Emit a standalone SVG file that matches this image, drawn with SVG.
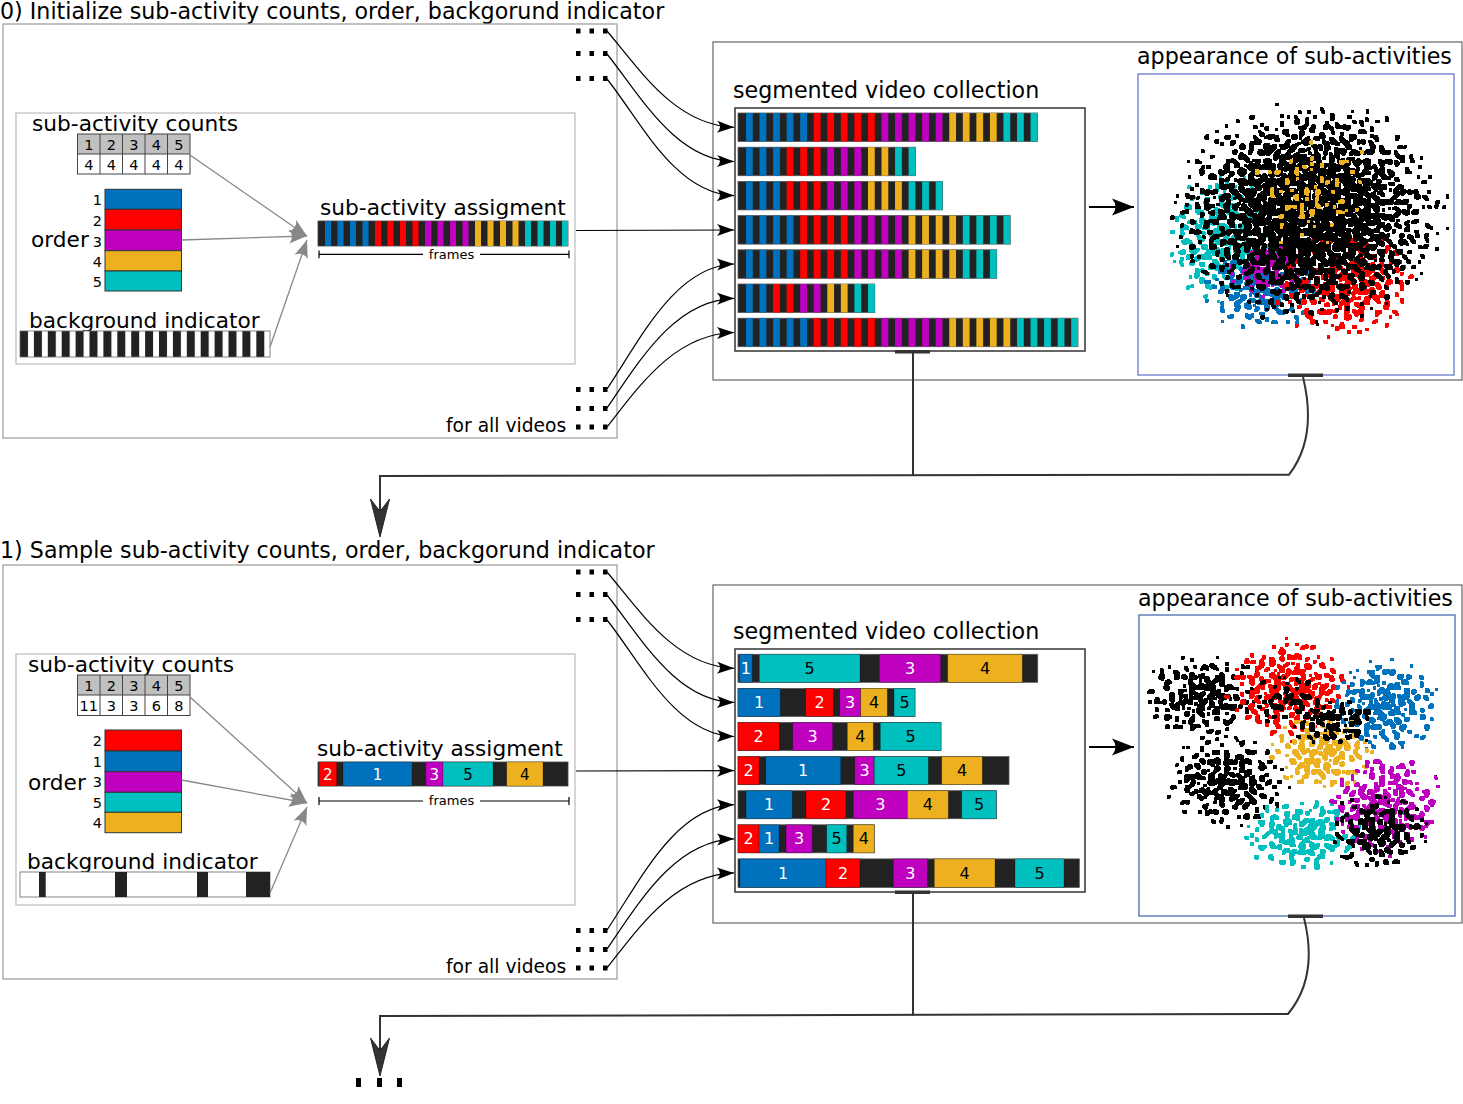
<svg xmlns="http://www.w3.org/2000/svg" width="1463" height="1104" viewBox="0 0 1463 1104">
<style>
text { font-family: "DejaVu Sans", "Liberation Sans", sans-serif; fill: #000; }
.big { font-size: 22.2px; }
.big2 { font-size: 21.7px; }
.mid { font-size: 18.7px; }
.num { font-size: 14.5px; }
.numc { font-size: 14.5px; text-anchor: middle; }
.fr { font-size: 13px; text-anchor: middle; }
.lbl { font-size: 16px; text-anchor: middle; }
.lbs { font-size: 15px; text-anchor: middle; }
.w { fill: #fff; }
.frame { fill: none; stroke: #999; stroke-width: 1.2; }
.inner { fill: none; stroke: #bbb; stroke-width: 1.2; }
.panel { fill: none; stroke: #666; stroke-width: 1.2; }
.coll { fill: #fff; stroke: #333; stroke-width: 1.5; }
.scat { fill: #fff; stroke: #5a6fc8; stroke-width: 1.2; }
.bar { fill: #222; stroke: #555; stroke-width: 0.8; }
.seg { stroke: #000; stroke-opacity: 0.3; stroke-width: 0.8; }
.cell { fill: none; stroke: #444; stroke-width: 1; }
.ord { stroke: #333; stroke-width: 1; }
.gray { fill: none; stroke: #888; stroke-width: 1.3; marker-end: url(#mGray); }
.blk { fill: none; stroke: #000; stroke-width: 1.2; marker-end: url(#mBlk); }
.flow { fill: none; stroke: #333; stroke-width: 2; }
.dot { fill: #000; }
.tick { fill: #333; }
.dart { fill: #333; stroke: #222; stroke-width: 1; }
</style>
<defs>
<marker id="mGray" markerUnits="userSpaceOnUse" viewBox="-20 -9 22 18" refX="0" refY="0" markerWidth="22" markerHeight="18" orient="auto"><path d="M0,0 L-18,-7 Q-12,0 -18,7 Z" fill="#888"/></marker>
<marker id="mBlk" markerUnits="userSpaceOnUse" viewBox="-18 -8 20 16" refX="0" refY="0" markerWidth="20" markerHeight="16" orient="auto"><path d="M0,0 L-17,-6 Q-11,0 -17,6 Z" fill="#000"/></marker>
<marker id="mBig" markerUnits="userSpaceOnUse" viewBox="-24 -10 26 20" refX="0" refY="0" markerWidth="26" markerHeight="20" orient="auto"><path d="M0,0 L-22,-8.5 Q-15,0 -22,8.5 Z" fill="#000"/></marker>
<pattern id="pB" patternUnits="userSpaceOnUse" x="746" y="0" width="13.55" height="1104"><rect width="6.8" height="1104" fill="#0072bd"/></pattern>
<pattern id="pR" patternUnits="userSpaceOnUse" x="746" y="0" width="13.55" height="1104"><rect width="6.8" height="1104" fill="#ff0000"/></pattern>
<pattern id="pM" patternUnits="userSpaceOnUse" x="746" y="0" width="13.55" height="1104"><rect width="6.8" height="1104" fill="#bf00bf"/></pattern>
<pattern id="pO" patternUnits="userSpaceOnUse" x="746" y="0" width="13.55" height="1104"><rect width="6.8" height="1104" fill="#edb120"/></pattern>
<pattern id="pC" patternUnits="userSpaceOnUse" x="746" y="0" width="13.55" height="1104"><rect width="6.8" height="1104" fill="#00bfbf"/></pattern>
<pattern id="pBg" patternUnits="userSpaceOnUse" x="20" y="0" width="13.9" height="1104"><rect width="8" height="1104" fill="#222"/></pattern>
<radialGradient id="gK"><stop offset="0" stop-color="#000" stop-opacity="1"/><stop offset="0.4" stop-color="#000" stop-opacity="0.95"/><stop offset="0.75" stop-color="#000" stop-opacity="0.86"/><stop offset="1" stop-color="#000" stop-opacity="0.75"/></radialGradient>
<radialGradient id="gK3"><stop offset="0" stop-color="#000" stop-opacity="1"/><stop offset="0.35" stop-color="#000" stop-opacity="0.96"/><stop offset="0.65" stop-color="#000" stop-opacity="0.86"/><stop offset="1" stop-color="#000" stop-opacity="0.68"/></radialGradient>
<radialGradient id="gB"><stop offset="0" stop-color="#0072bd" stop-opacity="1"/><stop offset="0.4" stop-color="#0072bd" stop-opacity="0.95"/><stop offset="0.75" stop-color="#0072bd" stop-opacity="0.86"/><stop offset="1" stop-color="#0072bd" stop-opacity="0.75"/></radialGradient>
<radialGradient id="gR"><stop offset="0" stop-color="#ff0000" stop-opacity="1"/><stop offset="0.4" stop-color="#ff0000" stop-opacity="0.95"/><stop offset="0.75" stop-color="#ff0000" stop-opacity="0.86"/><stop offset="1" stop-color="#ff0000" stop-opacity="0.75"/></radialGradient>
<radialGradient id="gM"><stop offset="0" stop-color="#bf00bf" stop-opacity="1"/><stop offset="0.4" stop-color="#bf00bf" stop-opacity="0.95"/><stop offset="0.75" stop-color="#bf00bf" stop-opacity="0.86"/><stop offset="1" stop-color="#bf00bf" stop-opacity="0.75"/></radialGradient>
<radialGradient id="gO"><stop offset="0" stop-color="#edb120" stop-opacity="1"/><stop offset="0.4" stop-color="#edb120" stop-opacity="0.95"/><stop offset="0.75" stop-color="#edb120" stop-opacity="0.86"/><stop offset="1" stop-color="#edb120" stop-opacity="0.75"/></radialGradient>
<radialGradient id="gC"><stop offset="0" stop-color="#00bfbf" stop-opacity="1"/><stop offset="0.4" stop-color="#00bfbf" stop-opacity="0.95"/><stop offset="0.75" stop-color="#00bfbf" stop-opacity="0.86"/><stop offset="1" stop-color="#00bfbf" stop-opacity="0.75"/></radialGradient>
<filter id="f1" x="-0.05" y="-0.05" width="1.1" height="1.1" color-interpolation-filters="sRGB"><feTurbulence type="fractalNoise" baseFrequency="0.2" numOctaves="1" seed="3"/><feColorMatrix type="matrix" values="0 0 0 0 0 0 0 0 0 0 0 0 0 0 0 1 0 0 0 0"/><feComposite in2="SourceAlpha" operator="arithmetic" k1="0" k2="1" k3="1" k4="-0.9"/><feComponentTransfer><feFuncA type="discrete" tableValues="0 0 0 0 0 0 0 0 0 0 0 0 1 1 1 1 1 1 1 1"/></feComponentTransfer><feMorphology operator="dilate" radius="1"/><feGaussianBlur stdDeviation="0.6"/><feComponentTransfer result="t"><feFuncA type="linear" slope="3" intercept="-0.6"/></feComponentTransfer><feColorMatrix in="SourceGraphic" type="matrix" values="1 0 0 0 0 0 1 0 0 0 0 0 1 0 0 0 0 0 0 1"/><feComposite in2="t" operator="in"/></filter>
<filter id="f2" x="-0.05" y="-0.05" width="1.1" height="1.1" color-interpolation-filters="sRGB"><feTurbulence type="fractalNoise" baseFrequency="0.2" numOctaves="1" seed="11"/><feColorMatrix type="matrix" values="0 0 0 0 0 0 0 0 0 0 0 0 0 0 0 1 0 0 0 0"/><feComposite in2="SourceAlpha" operator="arithmetic" k1="0" k2="1" k3="1" k4="-0.9"/><feComponentTransfer><feFuncA type="discrete" tableValues="0 0 0 0 0 0 0 0 0 0 0 0 1 1 1 1 1 1 1 1"/></feComponentTransfer><feMorphology operator="dilate" radius="1"/><feGaussianBlur stdDeviation="0.6"/><feComponentTransfer result="t"><feFuncA type="linear" slope="3" intercept="-0.6"/></feComponentTransfer><feColorMatrix in="SourceGraphic" type="matrix" values="1 0 0 0 0 0 1 0 0 0 0 0 1 0 0 0 0 0 0 1"/><feComposite in2="t" operator="in"/></filter>
<filter id="f3" x="-0.05" y="-0.05" width="1.1" height="1.1" color-interpolation-filters="sRGB"><feTurbulence type="fractalNoise" baseFrequency="0.2" numOctaves="1" seed="19"/><feColorMatrix type="matrix" values="0 0 0 0 0 0 0 0 0 0 0 0 0 0 0 1 0 0 0 0"/><feComposite in2="SourceAlpha" operator="arithmetic" k1="0" k2="1" k3="1" k4="-0.9"/><feComponentTransfer><feFuncA type="discrete" tableValues="0 0 0 0 0 0 0 0 0 0 0 0 1 1 1 1 1 1 1 1"/></feComponentTransfer><feMorphology operator="dilate" radius="1"/><feGaussianBlur stdDeviation="0.6"/><feComponentTransfer result="t"><feFuncA type="linear" slope="3" intercept="-0.6"/></feComponentTransfer><feColorMatrix in="SourceGraphic" type="matrix" values="1 0 0 0 0 0 1 0 0 0 0 0 1 0 0 0 0 0 0 1"/><feComposite in2="t" operator="in"/></filter>
<filter id="f4" x="-0.05" y="-0.05" width="1.1" height="1.1" color-interpolation-filters="sRGB"><feTurbulence type="fractalNoise" baseFrequency="0.2" numOctaves="1" seed="27"/><feColorMatrix type="matrix" values="0 0 0 0 0 0 0 0 0 0 0 0 0 0 0 1 0 0 0 0"/><feComposite in2="SourceAlpha" operator="arithmetic" k1="0" k2="1" k3="1" k4="-0.9"/><feComponentTransfer><feFuncA type="discrete" tableValues="0 0 0 0 0 0 0 0 0 0 0 0 1 1 1 1 1 1 1 1"/></feComponentTransfer><feMorphology operator="dilate" radius="1"/><feGaussianBlur stdDeviation="0.6"/><feComponentTransfer result="t"><feFuncA type="linear" slope="3" intercept="-0.6"/></feComponentTransfer><feColorMatrix in="SourceGraphic" type="matrix" values="1 0 0 0 0 0 1 0 0 0 0 0 1 0 0 0 0 0 0 1"/><feComposite in2="t" operator="in"/></filter>
<filter id="f5" x="-0.05" y="-0.05" width="1.1" height="1.1" color-interpolation-filters="sRGB"><feTurbulence type="fractalNoise" baseFrequency="0.2" numOctaves="1" seed="35"/><feColorMatrix type="matrix" values="0 0 0 0 0 0 0 0 0 0 0 0 0 0 0 1 0 0 0 0"/><feComposite in2="SourceAlpha" operator="arithmetic" k1="0" k2="1" k3="1" k4="-0.9"/><feComponentTransfer><feFuncA type="discrete" tableValues="0 0 0 0 0 0 0 0 0 0 0 0 1 1 1 1 1 1 1 1"/></feComponentTransfer><feMorphology operator="dilate" radius="1"/><feGaussianBlur stdDeviation="0.6"/><feComponentTransfer result="t"><feFuncA type="linear" slope="3" intercept="-0.6"/></feComponentTransfer><feColorMatrix in="SourceGraphic" type="matrix" values="1 0 0 0 0 0 1 0 0 0 0 0 1 0 0 0 0 0 0 1"/><feComposite in2="t" operator="in"/></filter>
<filter id="f6" x="-0.05" y="-0.05" width="1.1" height="1.1" color-interpolation-filters="sRGB"><feTurbulence type="fractalNoise" baseFrequency="0.2" numOctaves="1" seed="43"/><feColorMatrix type="matrix" values="0 0 0 0 0 0 0 0 0 0 0 0 0 0 0 1 0 0 0 0"/><feComposite in2="SourceAlpha" operator="arithmetic" k1="0" k2="1" k3="1" k4="-0.9"/><feComponentTransfer><feFuncA type="discrete" tableValues="0 0 0 0 0 0 0 0 0 0 0 0 1 1 1 1 1 1 1 1"/></feComponentTransfer><feMorphology operator="dilate" radius="1"/><feGaussianBlur stdDeviation="0.6"/><feComponentTransfer result="t"><feFuncA type="linear" slope="3" intercept="-0.6"/></feComponentTransfer><feColorMatrix in="SourceGraphic" type="matrix" values="1 0 0 0 0 0 1 0 0 0 0 0 1 0 0 0 0 0 0 1"/><feComposite in2="t" operator="in"/></filter>
<filter id="f7" x="-0.05" y="-0.05" width="1.1" height="1.1" color-interpolation-filters="sRGB"><feTurbulence type="fractalNoise" baseFrequency="0.2" numOctaves="1" seed="51"/><feColorMatrix type="matrix" values="0 0 0 0 0 0 0 0 0 0 0 0 0 0 0 1 0 0 0 0"/><feComposite in2="SourceAlpha" operator="arithmetic" k1="0" k2="1" k3="1" k4="-0.9"/><feComponentTransfer><feFuncA type="discrete" tableValues="0 0 0 0 0 0 0 0 0 0 0 0 1 1 1 1 1 1 1 1"/></feComponentTransfer><feMorphology operator="dilate" radius="1"/><feGaussianBlur stdDeviation="0.6"/><feComponentTransfer result="t"><feFuncA type="linear" slope="3" intercept="-0.6"/></feComponentTransfer><feColorMatrix in="SourceGraphic" type="matrix" values="1 0 0 0 0 0 1 0 0 0 0 0 1 0 0 0 0 0 0 1"/><feComposite in2="t" operator="in"/></filter>
<filter id="f8" x="-0.05" y="-0.05" width="1.1" height="1.1" color-interpolation-filters="sRGB"><feTurbulence type="fractalNoise" baseFrequency="0.2" numOctaves="1" seed="59"/><feColorMatrix type="matrix" values="0 0 0 0 0 0 0 0 0 0 0 0 0 0 0 1 0 0 0 0"/><feComposite in2="SourceAlpha" operator="arithmetic" k1="0" k2="1" k3="1" k4="-0.9"/><feComponentTransfer><feFuncA type="discrete" tableValues="0 0 0 0 0 0 0 0 0 0 0 0 1 1 1 1 1 1 1 1"/></feComponentTransfer><feMorphology operator="dilate" radius="1"/><feGaussianBlur stdDeviation="0.6"/><feComponentTransfer result="t"><feFuncA type="linear" slope="3" intercept="-0.6"/></feComponentTransfer><feColorMatrix in="SourceGraphic" type="matrix" values="1 0 0 0 0 0 1 0 0 0 0 0 1 0 0 0 0 0 0 1"/><feComposite in2="t" operator="in"/></filter>
<filter id="f9" x="-0.05" y="-0.05" width="1.1" height="1.1" color-interpolation-filters="sRGB"><feTurbulence type="fractalNoise" baseFrequency="0.2" numOctaves="1" seed="67"/><feColorMatrix type="matrix" values="0 0 0 0 0 0 0 0 0 0 0 0 0 0 0 1 0 0 0 0"/><feComposite in2="SourceAlpha" operator="arithmetic" k1="0" k2="1" k3="1" k4="-0.9"/><feComponentTransfer><feFuncA type="discrete" tableValues="0 0 0 0 0 0 0 0 0 0 0 0 1 1 1 1 1 1 1 1"/></feComponentTransfer><feMorphology operator="dilate" radius="1"/><feGaussianBlur stdDeviation="0.6"/><feComponentTransfer result="t"><feFuncA type="linear" slope="3" intercept="-0.6"/></feComponentTransfer><feColorMatrix in="SourceGraphic" type="matrix" values="1 0 0 0 0 0 1 0 0 0 0 0 1 0 0 0 0 0 0 1"/><feComposite in2="t" operator="in"/></filter>
<filter id="f10" x="-0.05" y="-0.05" width="1.1" height="1.1" color-interpolation-filters="sRGB"><feTurbulence type="fractalNoise" baseFrequency="0.2" numOctaves="1" seed="75"/><feColorMatrix type="matrix" values="0 0 0 0 0 0 0 0 0 0 0 0 0 0 0 1 0 0 0 0"/><feComposite in2="SourceAlpha" operator="arithmetic" k1="0" k2="1" k3="1" k4="-0.9"/><feComponentTransfer><feFuncA type="discrete" tableValues="0 0 0 0 0 0 0 0 0 0 0 0 1 1 1 1 1 1 1 1"/></feComponentTransfer><feMorphology operator="dilate" radius="1"/><feGaussianBlur stdDeviation="0.6"/><feComponentTransfer result="t"><feFuncA type="linear" slope="3" intercept="-0.6"/></feComponentTransfer><feColorMatrix in="SourceGraphic" type="matrix" values="1 0 0 0 0 0 1 0 0 0 0 0 1 0 0 0 0 0 0 1"/><feComposite in2="t" operator="in"/></filter>
<filter id="f11" x="-0.05" y="-0.05" width="1.1" height="1.1" color-interpolation-filters="sRGB"><feTurbulence type="fractalNoise" baseFrequency="0.2" numOctaves="1" seed="83"/><feColorMatrix type="matrix" values="0 0 0 0 0 0 0 0 0 0 0 0 0 0 0 1 0 0 0 0"/><feComposite in2="SourceAlpha" operator="arithmetic" k1="0" k2="1" k3="1" k4="-0.82"/><feComponentTransfer><feFuncA type="discrete" tableValues="0 0 0 0 0 0 0 0 0 0 0 0 1 1 1 1 1 1 1 1"/></feComponentTransfer><feMorphology operator="dilate" radius="1"/><feGaussianBlur stdDeviation="0.6"/><feComponentTransfer result="t"><feFuncA type="linear" slope="3" intercept="-0.6"/></feComponentTransfer><feColorMatrix in="SourceGraphic" type="matrix" values="1 0 0 0 0 0 1 0 0 0 0 0 1 0 0 0 0 0 0 1"/><feComposite in2="t" operator="in"/></filter>
</defs>
<rect width="1463" height="1104" fill="#fff"/>

<!-- ================= STAGE 0 ================= -->
<g id="stage0-title"><text class="big" x="0" y="18.5">0) Initialize sub-activity counts, order, backgorund indicator</text></g>
<g id="stage0-frame">
<rect class="frame" x="3" y="24" width="614" height="414"/>
<rect class="inner" x="16" y="113" width="559" height="251"/>
<text class="mid" x="446" y="432">for all videos</text>
<rect class="dot" x="576" y="28.5" width="4.5" height="5"/><rect class="dot" x="589.5" y="28.5" width="4.5" height="5"/><rect class="dot" x="603" y="28.5" width="4.5" height="5"/>
<rect class="dot" x="576" y="51" width="4.5" height="5"/><rect class="dot" x="589.5" y="51" width="4.5" height="5"/><rect class="dot" x="603" y="51" width="4.5" height="5"/>
<rect class="dot" x="576" y="76" width="4.5" height="5"/><rect class="dot" x="589.5" y="76" width="4.5" height="5"/><rect class="dot" x="603" y="76" width="4.5" height="5"/>
<rect class="dot" x="576" y="387" width="4.5" height="5"/><rect class="dot" x="589.5" y="387" width="4.5" height="5"/><rect class="dot" x="603" y="387" width="4.5" height="5"/>
<rect class="dot" x="576" y="406" width="4.5" height="5"/><rect class="dot" x="589.5" y="406" width="4.5" height="5"/><rect class="dot" x="603" y="406" width="4.5" height="5"/>
<rect class="dot" x="576" y="424.5" width="4.5" height="5"/><rect class="dot" x="589.5" y="424.5" width="4.5" height="5"/><rect class="dot" x="603" y="424.5" width="4.5" height="5"/>
</g>
<g id="counts0">
<text class="big2" x="32" y="131">sub-activity counts</text>
<rect x="77.5" y="134" width="112.5" height="20" fill="#c0c0c0"/>
<rect class="cell" x="77.5" y="134" width="112.5" height="40"/>
<path class="cell" d="M77.5,154H190M100,134V174M122.5,134V174M145,134V174M167.5,134V174"/>
<text class="numc" x="88.75" y="149.5">1</text><text class="numc" x="111.25" y="149.5">2</text><text class="numc" x="133.75" y="149.5">3</text><text class="numc" x="156.25" y="149.5">4</text><text class="numc" x="178.75" y="149.5">5</text>
<text class="numc" x="88.75" y="169.5">4</text><text class="numc" x="111.25" y="169.5">4</text><text class="numc" x="133.75" y="169.5">4</text><text class="numc" x="156.25" y="169.5">4</text><text class="numc" x="178.75" y="169.5">4</text>
</g>
<g id="order0">
<text class="big2" x="31" y="247">order</text>
<rect class="ord" x="105" y="189.3" width="76.5" height="20" fill="#0072bd"/>
<rect class="ord" x="105" y="209.3" width="76.5" height="20.7" fill="#ff0000"/>
<rect class="ord" x="105" y="230" width="76.5" height="20.7" fill="#bf00bf"/>
<rect class="ord" x="105" y="250.7" width="76.5" height="20.3" fill="#edb120"/>
<rect class="ord" x="105" y="271" width="76.5" height="20" fill="#00bfbf"/>
<g class="num" text-anchor="end"><text x="102" y="205">1</text><text x="102" y="226">2</text><text x="102" y="246.7">3</text><text x="102" y="266.7">4</text><text x="102" y="287">5</text></g>
</g>
<g id="background0">
<text class="big2" x="29" y="328">background indicator</text>
<rect x="20" y="331" width="250" height="26" fill="#fff"/>
<rect x="20" y="331" width="250" height="26" fill="url(#pBg)"/>
<rect x="20" y="331" width="250" height="26" fill="none" stroke="#666" stroke-width="0.8"/>
</g>
<g id="assignment0">
<text class="big2" x="320" y="215">sub-activity assigment</text>
<rect x="318" y="221" width="250" height="25" fill="#222" stroke="#444" stroke-width="0.8"/>
<g fill="#0072bd"><rect x="325" y="221" width="6" height="25"/><rect x="337.5" y="221" width="6" height="25"/><rect x="350" y="221" width="6" height="25"/><rect x="362.5" y="221" width="6" height="25"/></g>
<g fill="#ff0000"><rect x="375" y="221" width="6" height="25"/><rect x="387.5" y="221" width="6" height="25"/><rect x="400" y="221" width="6" height="25"/><rect x="412.5" y="221" width="6" height="25"/></g>
<g fill="#bf00bf"><rect x="425" y="221" width="6" height="25"/><rect x="437.5" y="221" width="6" height="25"/><rect x="450" y="221" width="6" height="25"/><rect x="462.5" y="221" width="6" height="25"/></g>
<g fill="#edb120"><rect x="475" y="221" width="6" height="25"/><rect x="487.5" y="221" width="6" height="25"/><rect x="500" y="221" width="6" height="25"/><rect x="512.5" y="221" width="6" height="25"/></g>
<g fill="#00bfbf"><rect x="525" y="221" width="6" height="25"/><rect x="537.5" y="221" width="6" height="25"/><rect x="550" y="221" width="6" height="25"/><rect x="562" y="221" width="6" height="25"/></g>
<path d="M319,254.3H423M480,254.3H569M319,250.5V258.3M569,250.5V258.3" stroke="#000" stroke-width="1.2" fill="none"/>
<text class="fr" x="451.5" y="258.5">frames</text>
</g>
<g id="panel0">
<rect class="panel" x="713" y="42" width="749" height="338"/>
</g>
<g id="collection0">
<text class="big" x="733" y="98">segmented video collection</text>
<rect class="coll" x="735" y="108" width="350" height="243"/>
<rect class="tick" x="895" y="350" width="35" height="3.5"/>
<rect class="bar" x="738" y="113" width="299.4" height="28.5"/>
<rect x="744" y="113" width="67.75" height="28.5" fill="url(#pB)"/><rect x="811.75" y="113" width="67.75" height="28.5" fill="url(#pR)"/><rect x="879.5" y="113" width="67.75" height="28.5" fill="url(#pM)"/><rect x="947.25" y="113" width="54.2" height="28.5" fill="url(#pO)"/><rect x="1001.45" y="113" width="40.65" height="28.5" fill="url(#pC)"/>
<rect class="bar" x="738" y="147.2" width="177.4" height="28.5"/>
<rect x="744" y="147.2" width="40.65" height="28.5" fill="url(#pB)"/><rect x="784.65" y="147.2" width="40.65" height="28.5" fill="url(#pR)"/><rect x="825.3" y="147.2" width="40.65" height="28.5" fill="url(#pM)"/><rect x="865.95" y="147.2" width="27.1" height="28.5" fill="url(#pO)"/><rect x="893.05" y="147.2" width="27.1" height="28.5" fill="url(#pC)"/>
<rect class="bar" x="738" y="181.4" width="204.5" height="28.5"/>
<rect x="744" y="181.4" width="40.65" height="28.5" fill="url(#pB)"/><rect x="784.65" y="181.4" width="40.65" height="28.5" fill="url(#pR)"/><rect x="825.3" y="181.4" width="40.65" height="28.5" fill="url(#pM)"/><rect x="865.95" y="181.4" width="40.65" height="28.5" fill="url(#pO)"/><rect x="906.6" y="181.4" width="40.65" height="28.5" fill="url(#pC)"/>
<rect class="bar" x="738" y="215.6" width="272.2" height="28.5"/>
<rect x="744" y="215.6" width="54.2" height="28.5" fill="url(#pB)"/><rect x="798.2" y="215.6" width="54.2" height="28.5" fill="url(#pR)"/><rect x="852.4" y="215.6" width="54.2" height="28.5" fill="url(#pM)"/><rect x="906.6" y="215.6" width="54.2" height="28.5" fill="url(#pO)"/><rect x="960.8" y="215.6" width="54.2" height="28.5" fill="url(#pC)"/>
<rect class="bar" x="738" y="249.8" width="258.7" height="28.5"/>
<rect x="744" y="249.8" width="54.2" height="28.5" fill="url(#pB)"/><rect x="798.2" y="249.8" width="54.2" height="28.5" fill="url(#pR)"/><rect x="852.4" y="249.8" width="54.2" height="28.5" fill="url(#pM)"/><rect x="906.6" y="249.8" width="54.2" height="28.5" fill="url(#pO)"/><rect x="960.8" y="249.8" width="40.65" height="28.5" fill="url(#pC)"/>
<rect class="bar" x="738" y="284" width="136.75" height="28.5"/>
<rect x="744" y="284" width="27.1" height="28.5" fill="url(#pB)"/><rect x="771.1" y="284" width="27.1" height="28.5" fill="url(#pR)"/><rect x="798.2" y="284" width="27.1" height="28.5" fill="url(#pM)"/><rect x="825.3" y="284" width="27.1" height="28.5" fill="url(#pO)"/><rect x="852.4" y="284" width="27.1" height="28.5" fill="url(#pC)"/>
<rect class="bar" x="738" y="318.2" width="340" height="28.5"/>
<rect x="744" y="318.2" width="67.75" height="28.5" fill="url(#pB)"/><rect x="811.75" y="318.2" width="67.75" height="28.5" fill="url(#pR)"/><rect x="879.5" y="318.2" width="67.75" height="28.5" fill="url(#pM)"/><rect x="947.25" y="318.2" width="67.75" height="28.5" fill="url(#pO)"/><rect x="1015" y="318.2" width="67.75" height="28.5" fill="url(#pC)"/>
</g>
<g id="appearance0">
<text class="big" x="1137" y="64">appearance of sub-activities</text>
<rect class="scat" x="1138" y="74" width="316" height="301"/>
<rect class="tick" x="1288" y="373.5" width="35" height="3.5"/>
<ellipse cx="1222" cy="238" rx="60" ry="70" fill="url(#gC)" filter="url(#f1)"/>
<ellipse cx="1262" cy="290" rx="64" ry="42" fill="url(#gB)" filter="url(#f2)"/>
<ellipse cx="1270" cy="268" rx="46" ry="30" fill="url(#gM)" filter="url(#f3)"/>
<ellipse cx="1345" cy="282" rx="76" ry="60" fill="url(#gR)" filter="url(#f4)"/>
<ellipse cx="1310" cy="212" rx="140" ry="114" fill="url(#gK3)" filter="url(#f11)"/>
<ellipse cx="1310" cy="195" rx="88" ry="78" fill="url(#gO)" fill-opacity="0.85" filter="url(#f6)"/>
</g>

<!-- ================= STAGE 1 ================= -->
<g id="stage1-title"><text class="big" x="0" y="558">1) Sample sub-activity counts, order, backgorund indicator</text></g>
<g id="stage1-frame">
<rect class="frame" x="3" y="565" width="614" height="414"/>
<rect class="inner" x="16" y="654" width="559" height="251"/>
<text class="mid" x="446" y="973">for all videos</text>
<rect class="dot" x="576" y="569.5" width="4.5" height="5"/><rect class="dot" x="589.5" y="569.5" width="4.5" height="5"/><rect class="dot" x="603" y="569.5" width="4.5" height="5"/>
<rect class="dot" x="576" y="592" width="4.5" height="5"/><rect class="dot" x="589.5" y="592" width="4.5" height="5"/><rect class="dot" x="603" y="592" width="4.5" height="5"/>
<rect class="dot" x="576" y="617" width="4.5" height="5"/><rect class="dot" x="589.5" y="617" width="4.5" height="5"/><rect class="dot" x="603" y="617" width="4.5" height="5"/>
<rect class="dot" x="576" y="928" width="4.5" height="5"/><rect class="dot" x="589.5" y="928" width="4.5" height="5"/><rect class="dot" x="603" y="928" width="4.5" height="5"/>
<rect class="dot" x="576" y="947" width="4.5" height="5"/><rect class="dot" x="589.5" y="947" width="4.5" height="5"/><rect class="dot" x="603" y="947" width="4.5" height="5"/>
<rect class="dot" x="576" y="965.5" width="4.5" height="5"/><rect class="dot" x="589.5" y="965.5" width="4.5" height="5"/><rect class="dot" x="603" y="965.5" width="4.5" height="5"/>
</g>
<g id="counts1">
<text class="big2" x="28" y="671.5">sub-activity counts</text>
<rect x="77.5" y="675" width="112.5" height="20" fill="#c0c0c0"/>
<rect class="cell" x="77.5" y="675" width="112.5" height="40.5"/>
<path class="cell" d="M77.5,695H190M100,675V715.5M122.5,675V715.5M145,675V715.5M167.5,675V715.5"/>
<text class="numc" x="88.75" y="690.5">1</text><text class="numc" x="111.25" y="690.5">2</text><text class="numc" x="133.75" y="690.5">3</text><text class="numc" x="156.25" y="690.5">4</text><text class="numc" x="178.75" y="690.5">5</text>
<text class="numc" x="88.75" y="710.5">11</text><text class="numc" x="111.25" y="710.5">3</text><text class="numc" x="133.75" y="710.5">3</text><text class="numc" x="156.25" y="710.5">6</text><text class="numc" x="178.75" y="710.5">8</text>
</g>
<g id="order1">
<text class="big2" x="28" y="789.5">order</text>
<rect class="ord" x="105" y="730" width="76.5" height="21" fill="#ff0000"/>
<rect class="ord" x="105" y="751" width="76.5" height="20.7" fill="#0072bd"/>
<rect class="ord" x="105" y="771.7" width="76.5" height="20.6" fill="#bf00bf"/>
<rect class="ord" x="105" y="792.3" width="76.5" height="20" fill="#00bfbf"/>
<rect class="ord" x="105" y="812.3" width="76.5" height="20.4" fill="#edb120"/>
<g class="num" text-anchor="end"><text x="102" y="746">2</text><text x="102" y="766.7">1</text><text x="102" y="787.3">3</text><text x="102" y="807.7">5</text><text x="102" y="827.7">4</text></g>
</g>
<g id="background1">
<text class="big2" x="27" y="868.5">background indicator</text>
<rect x="20" y="872" width="250" height="25" fill="#fff" stroke="#666" stroke-width="0.8"/>
<g fill="#222"><rect x="39" y="872" width="6.7" height="25"/><rect x="115" y="872" width="12" height="25"/><rect x="197" y="872" width="11" height="25"/><rect x="246" y="872" width="24" height="25"/></g>
</g>
<g id="assignment1">
<text class="big2" x="317" y="756">sub-activity assigment</text>
<rect x="318" y="762" width="250" height="24" fill="#222" stroke="#444" stroke-width="0.8"/>
<rect class="seg" x="319" y="762" width="17.7" height="24" fill="#ff0000"/>
<rect class="seg" x="343" y="762" width="69" height="24" fill="#0072bd"/>
<rect class="seg" x="425.7" y="762" width="17.3" height="24" fill="#bf00bf"/>
<rect class="seg" x="443" y="762" width="50" height="24" fill="#00bfbf"/>
<rect class="seg" x="506.7" y="762" width="36.3" height="24" fill="#edb120"/>
<text class="lbs w" x="327.8" y="779.5">2</text><text class="lbs w" x="377.5" y="779.5">1</text><text class="lbs w" x="434.3" y="779.5">3</text><text class="lbs" x="468" y="779.5">5</text><text class="lbs" x="524.8" y="779.5">4</text>
<path d="M319,801H423M480,801H569M319,797V805M569,797V805" stroke="#000" stroke-width="1.2" fill="none"/>
<text class="fr" x="451.5" y="805.3">frames</text>
</g>
<g id="panel1">
<rect class="panel" x="713" y="585" width="749" height="338"/>
</g>
<g id="collection1">
<text class="big" x="733" y="639">segmented video collection</text>
<rect class="coll" x="735" y="649" width="350" height="243"/>
<rect class="tick" x="895" y="890.5" width="35" height="3.5"/>
<rect class="bar" x="738" y="654.3" width="299.7" height="28"/>
<rect class="seg" x="739.3" y="654.3" width="13" height="28" fill="#0072bd"/><rect class="seg" x="759.3" y="654.3" width="100.7" height="28" fill="#00bfbf"/><rect class="seg" x="879.3" y="654.3" width="61.4" height="28" fill="#bf00bf"/><rect class="seg" x="947.7" y="654.3" width="74.6" height="28" fill="#edb120"/>
<text class="lbl w" x="745.8" y="674">1</text><text class="lbl" x="809.7" y="674">5</text><text class="lbl w" x="910" y="674">3</text><text class="lbl" x="985" y="674">4</text>
<rect class="bar" x="738" y="688.4" width="177" height="28"/>
<rect class="seg" x="738" y="688.4" width="42.3" height="28" fill="#0072bd"/><rect class="seg" x="805.7" y="688.4" width="27.6" height="28" fill="#ff0000"/><rect class="seg" x="839.7" y="688.4" width="21" height="28" fill="#bf00bf"/><rect class="seg" x="860.7" y="688.4" width="26.6" height="28" fill="#edb120"/><rect class="seg" x="894" y="688.4" width="21" height="28" fill="#00bfbf"/>
<text class="lbl w" x="759" y="708">1</text><text class="lbl w" x="819.5" y="708">2</text><text class="lbl w" x="850.2" y="708">3</text><text class="lbl" x="874" y="708">4</text><text class="lbl" x="904.5" y="708">5</text>
<rect class="bar" x="738" y="722.5" width="203" height="28"/>
<rect class="seg" x="738" y="722.5" width="41.3" height="28" fill="#ff0000"/><rect class="seg" x="792.7" y="722.5" width="40" height="28" fill="#bf00bf"/><rect class="seg" x="847.3" y="722.5" width="26" height="28" fill="#edb120"/><rect class="seg" x="880.3" y="722.5" width="60.7" height="28" fill="#00bfbf"/>
<text class="lbl w" x="758.7" y="742">2</text><text class="lbl w" x="812.7" y="742">3</text><text class="lbl" x="860.3" y="742">4</text><text class="lbl" x="910.7" y="742">5</text>
<rect class="bar" x="738" y="756.6" width="271" height="28"/>
<rect class="seg" x="738" y="756.6" width="21" height="28" fill="#ff0000"/><rect class="seg" x="765.7" y="756.6" width="75" height="28" fill="#0072bd"/><rect class="seg" x="854.7" y="756.6" width="19.6" height="28" fill="#bf00bf"/><rect class="seg" x="874.3" y="756.6" width="54" height="28" fill="#00bfbf"/><rect class="seg" x="941.7" y="756.6" width="40.6" height="28" fill="#edb120"/>
<text class="lbl w" x="748.5" y="776.2">2</text><text class="lbl w" x="803.2" y="776.2">1</text><text class="lbl w" x="864.5" y="776.2">3</text><text class="lbl" x="901.3" y="776.2">5</text><text class="lbl" x="962" y="776.2">4</text>
<rect class="bar" x="738" y="790.7" width="258.3" height="28"/>
<rect class="seg" x="746" y="790.7" width="46.3" height="28" fill="#0072bd"/><rect class="seg" x="806" y="790.7" width="40" height="28" fill="#ff0000"/><rect class="seg" x="853.3" y="790.7" width="54" height="28" fill="#bf00bf"/><rect class="seg" x="907.3" y="790.7" width="41" height="28" fill="#edb120"/><rect class="seg" x="961.7" y="790.7" width="34.6" height="28" fill="#00bfbf"/>
<text class="lbl w" x="769.2" y="810.3">1</text><text class="lbl w" x="826" y="810.3">2</text><text class="lbl w" x="880.3" y="810.3">3</text><text class="lbl" x="927.8" y="810.3">4</text><text class="lbl" x="979" y="810.3">5</text>
<rect class="bar" x="738" y="824.8" width="136.3" height="28"/>
<rect class="seg" x="738" y="824.8" width="21" height="28" fill="#ff0000"/><rect class="seg" x="759" y="824.8" width="20" height="28" fill="#0072bd"/><rect class="seg" x="786" y="824.8" width="26.3" height="28" fill="#bf00bf"/><rect class="seg" x="826.7" y="824.8" width="20" height="28" fill="#00bfbf"/><rect class="seg" x="853.3" y="824.8" width="21" height="28" fill="#edb120"/>
<text class="lbl w" x="748.5" y="844.4">2</text><text class="lbl w" x="769" y="844.4">1</text><text class="lbl w" x="799.2" y="844.4">3</text><text class="lbl" x="836.7" y="844.4">5</text><text class="lbl" x="863.8" y="844.4">4</text>
<rect class="bar" x="738" y="858.9" width="341.3" height="28.5"/>
<rect class="seg" x="740" y="858.9" width="86" height="28.5" fill="#0072bd"/><rect class="seg" x="826" y="858.9" width="34" height="28.5" fill="#ff0000"/><rect class="seg" x="893.3" y="858.9" width="34" height="28.5" fill="#bf00bf"/><rect class="seg" x="934.3" y="858.9" width="60.7" height="28.5" fill="#edb120"/><rect class="seg" x="1015" y="858.9" width="49" height="28.5" fill="#00bfbf"/>
<text class="lbl w" x="783" y="878.7">1</text><text class="lbl w" x="843" y="878.7">2</text><text class="lbl w" x="910.3" y="878.7">3</text><text class="lbl" x="964.7" y="878.7">4</text><text class="lbl" x="1039.5" y="878.7">5</text>
</g>
<g id="appearance1">
<text class="big" x="1138" y="606">appearance of sub-activities</text>
<rect class="scat" x="1139" y="615" width="316" height="301" style="stroke:#3b5ea8"/>
<rect class="tick" x="1288" y="914.5" width="35" height="3.5"/>
<ellipse cx="1204" cy="696" rx="66" ry="44" fill="url(#gK)" filter="url(#f1)"/>
<ellipse cx="1227" cy="781" rx="66" ry="48" fill="url(#gK)" filter="url(#f2)"/>
<ellipse cx="1290" cy="688" rx="66" ry="55" fill="url(#gR)" filter="url(#f3)"/>
<ellipse cx="1288" cy="700" rx="50" ry="34" fill="url(#gK)" fill-opacity="0.93" filter="url(#f4)"/>
<ellipse cx="1385" cy="705" rx="56" ry="53" fill="url(#gB)" filter="url(#f5)"/>
<ellipse cx="1322" cy="753" rx="53" ry="42" fill="url(#gO)" filter="url(#f6)"/>
<ellipse cx="1335" cy="722" rx="46" ry="27" fill="url(#gK)" filter="url(#f7)"/>
<ellipse cx="1305" cy="834" rx="64" ry="40" fill="url(#gC)" filter="url(#f8)"/>
<ellipse cx="1385" cy="805" rx="60" ry="55" fill="url(#gM)" filter="url(#f9)"/>
<ellipse cx="1378" cy="832" rx="54" ry="41" fill="url(#gK)" filter="url(#f10)"/>
</g>

<!-- ================= CONNECTORS ================= -->
<g id="connectors">
<path class="gray" d="M190,155 L307,236"/>
<path class="gray" d="M181.5,240 L307,236"/>
<path class="gray" d="M270,347 L307,240"/>
<path class="blk" d="M607,31 C640,70 675,125 734,127.3"/>
<path class="blk" d="M607,54 C640,95 675,160 734,161.5"/>
<path class="blk" d="M607,79 C640,120 675,194 734,195.6"/>
<path class="blk" d="M576,230.5 L734,230"/>
<path class="blk" d="M607,389 C640,340 675,266 734,264"/>
<path class="blk" d="M607,408 C640,360 675,300 734,298.3"/>
<path class="blk" d="M607,427 C640,385 675,334 734,332.5"/>
<path d="M1089,207 L1134,207" fill="none" stroke="#000" stroke-width="2" marker-end="url(#mBig)"/>
<path class="flow" d="M913,353 L913,475.5"/>
<path class="flow" d="M1303,377 C1311,410 1312,445 1289,474.7 L380,476 L380,511"/>
<path class="dart" d="M380,537 L370.5,499 L380,511.5 L389.5,499 Z"/>

<path class="gray" d="M190,697 L307,803"/>
<path class="gray" d="M181.5,780 L307,803"/>
<path class="gray" d="M270,893 L307,807"/>
<path class="blk" d="M607,572 C640,611 675,666 734,668.3"/>
<path class="blk" d="M607,595 C640,636 675,701 734,702.4"/>
<path class="blk" d="M607,620 C640,661 675,735 734,736.5"/>
<path class="blk" d="M576,771 L734,770.6"/>
<path class="blk" d="M607,930 C640,881 675,807 734,804.7"/>
<path class="blk" d="M607,949 C640,901 675,841 734,838.8"/>
<path class="blk" d="M607,968 C640,926 675,875 734,872.9"/>
<path d="M1089,747 L1134,747" fill="none" stroke="#000" stroke-width="2" marker-end="url(#mBig)"/>
<path class="flow" d="M913,894 L913,1015.5"/>
<path class="flow" d="M1304,918 C1312,950 1312,985 1288,1014 L380,1016 L380,1050"/>
<path class="dart" d="M380,1076 L370.5,1038 L380,1050.5 L389.5,1038 Z"/>
<rect class="dot" x="356" y="1078" width="5" height="9"/><rect class="dot" x="377" y="1078" width="5" height="9"/><rect class="dot" x="397" y="1078" width="5" height="9"/>
</g>
</svg>
